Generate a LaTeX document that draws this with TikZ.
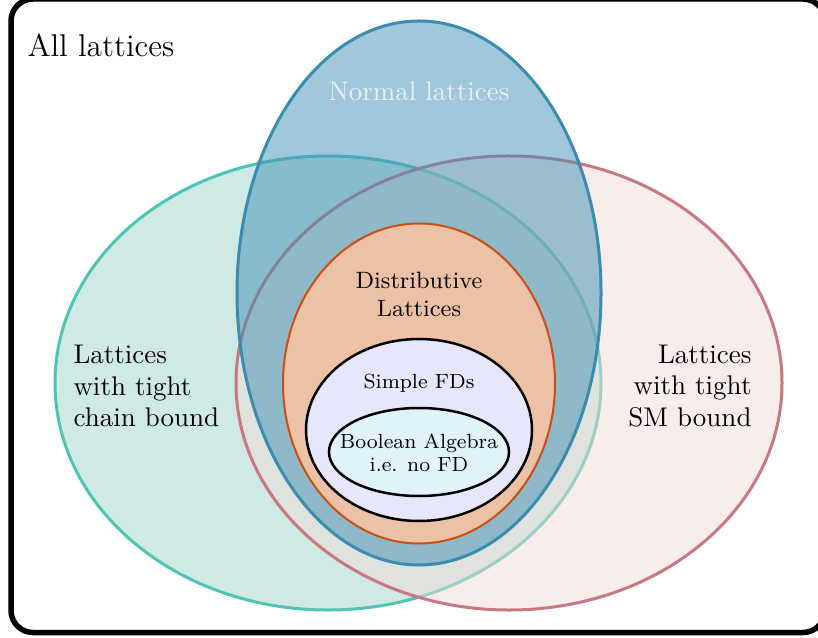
\documentclass[tikz,border=0pt]{standalone}
\definecolor{tealline}{RGB}{78,196,180}
\definecolor{tealfill}{RGB}{207,234,229}
\definecolor{redline}{RGB}{200,120,128}
\definecolor{redfill}{RGB}{239,219,215}
\definecolor{blueline}{RGB}{58,140,176}
\definecolor{bluefill}{RGB}{65,143,181}
\definecolor{orangeline}{RGB}{200,80,20}
\definecolor{orangefill}{RGB}{236,193,165}
\definecolor{lavfill}{RGB}{230,230,252}
\definecolor{boolfill}{RGB}{224,243,250}
\definecolor{normaltext}{RGB}{232,240,245}
\begin{document}
\begin{tikzpicture}[x=0.4pt,y=-0.4pt,
  bigtext/.style={font=\fontsize{10.8}{12.6}\selectfont, inner sep=0pt},
  midtext/.style={font=\fontsize{9.45}{11.2}\selectfont, inner sep=0pt, align=center},
  smalltext/.style={font=\fontsize{8.2}{9.2}\selectfont, inner sep=0pt, align=center}]
\useasboundingbox (0,0) rectangle (818,638);
% outer frame
\draw[line width=2.2pt, rounded corners=8.8pt] (11,-1) rectangle (825,632.5);
% teal ellipse
\draw[line width=1.2pt, draw=tealline, fill=tealfill]
  (328,383) ellipse [x radius=109.2pt, y radius=90.8pt];
% red ellipse
\draw[line width=1.2pt, draw=redline, fill=redfill, fill opacity=0.5]
  (509,383) ellipse [x radius=109.2pt, y radius=90.8pt];
% blue ellipse
\draw[line width=1.2pt, draw=blueline, fill=bluefill, fill opacity=0.5]
  (419,293) ellipse [x radius=72.8pt, y radius=108.8pt];
% orange ellipse
\draw[line width=0.8pt, draw=orangeline, fill=orangefill]
  (419,383.5) ellipse [x radius=54.4pt, y radius=64pt];
% lavender ellipse
\draw[line width=1pt, draw=black, fill=lavfill]
  (419,430) ellipse [x radius=45.2pt, y radius=36.4pt];
% boolean ellipse
\draw[line width=1pt, draw=black, fill=boolfill]
  (419,452) ellipse [x radius=36pt, y radius=17.6pt];
% texts
\node[anchor=west, inner sep=0pt, font=\fontsize{12.6}{15}\selectfont] (all) at (27,45) {All lattices};
\node[bigtext, text=normaltext] (normal) at (419,91) {Normal lattices};
\node[midtext] (distr) at (419,294) {Distributive\\Lattices};
\node[smalltext] (simple) at (419,383) {Simple FDs};
\node[smalltext] (bool) at (419,453) {Boolean Algebra\\i.e. no FD};
\node[bigtext, anchor=west, align=left] (chain) at (73,386) {Lattices\\with tight\\chain bound};
\node[bigtext, anchor=east, align=right] (sm) at (752,386) {Lattices\\with tight\\SM bound};
\end{tikzpicture}
\end{document}
